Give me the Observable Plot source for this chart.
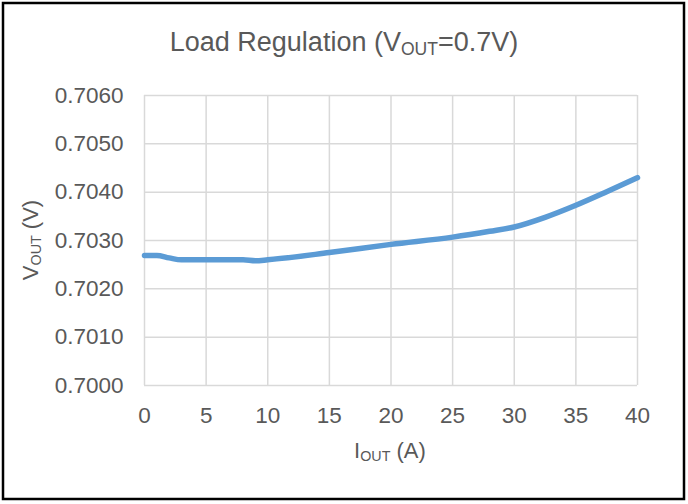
<!DOCTYPE html>
<html><head><meta charset="utf-8">
<script src="https://cdn.jsdelivr.net/npm/d3@7"></script>
<script src="https://cdn.jsdelivr.net/npm/@observablehq/plot@0.6"></script>
<style>
body{margin:0;background:#fff;}
#chart{width:688px;height:504px;}
</style></head><body><div id="chart"></div>
<script>
const currentA = [0, 1, 2, 3, 5, 8, 9, 10, 15, 20, 25, 28, 30, 32.5, 35, 37.5, 40];
const voutV    = [0.70269, 0.70269, 0.70264, 0.70260, 0.70260, 0.70260, 0.70258, 0.70260, 0.70275, 0.70292, 0.70307, 0.70319, 0.70328, 0.70348, 0.70373, 0.70401, 0.70430];
const xTicks = [0, 5, 10, 15, 20, 25, 30, 35, 40];
const yTicks = [0.7000, 0.7010, 0.7020, 0.7030, 0.7040, 0.7050, 0.7060];

const data = currentA.map((x, i) => ({x, y: voutV[i]}));
const FONT = "'Liberation Sans', Arial, sans-serif";
const GREY = "#595959";

const svg = Plot.plot({
  width: 688, height: 504,
  marginLeft: 144, marginRight: 51, marginTop: 95, marginBottom: 119,
  style: {fontFamily: FONT, background: "#fff", overflow: "visible"},
  x: {domain: [0, 40]},
  y: {domain: [0.7000, 0.7060]},
  marks: [
    Plot.gridX(xTicks, {stroke: "#d9d9d9", strokeOpacity: 1, strokeWidth: 1.5}),
    Plot.gridY(yTicks, {stroke: "#d9d9d9", strokeOpacity: 1, strokeWidth: 1.5}),
    Plot.axisX(xTicks, {tickSize: 0, tickPadding: 22, fontSize: 22.5, fill: GREY, label: null}),
    Plot.axisY(yTicks, {tickSize: 0, tickPadding: 21, fontSize: 22.5, fill: GREY, label: null, tickFormat: d3.format(".4f")}),
    Plot.line(data, {x: "x", y: "y", stroke: "#5b9bd5", strokeWidth: 5.5, curve: "monotone-x", strokeLinecap: "round"})
  ]
});

const s = d3.select(svg);
s.append("rect").attr("x", 3).attr("y", 3).attr("width", 681).attr("height", 496)
  .attr("fill", "none").attr("stroke", "#000").attr("stroke-width", 2.5);

function subText(g, parts) {
  parts.forEach(([t, sub]) => {
    const ts = g.append("tspan").text(t);
    if (sub) ts.attr("font-size", "65%").attr("baseline-shift", "-22%");
  });
}
const title = s.append("text").attr("x", 344).attr("y", 51).attr("text-anchor", "middle")
  .attr("font-size", 27).attr("fill", GREY).attr("font-family", FONT);
subText(title, [["Load Regulation (V"], ["OUT", true], ["=0.7V)"]]);

const xl = s.append("text").attr("x", 390).attr("y", 458).attr("text-anchor", "middle")
  .attr("font-size", 22).attr("fill", GREY).attr("font-family", FONT);
subText(xl, [["I"], ["OUT", true], [" (A)"]]);

const yl = s.append("text").attr("transform", "translate(38,240) rotate(-90)").attr("text-anchor", "middle")
  .attr("font-size", 22).attr("fill", GREY).attr("font-family", FONT);
subText(yl, [["V"], ["OUT", true], [" (V)"]]);

document.getElementById("chart").append(svg);
</script></body></html>
